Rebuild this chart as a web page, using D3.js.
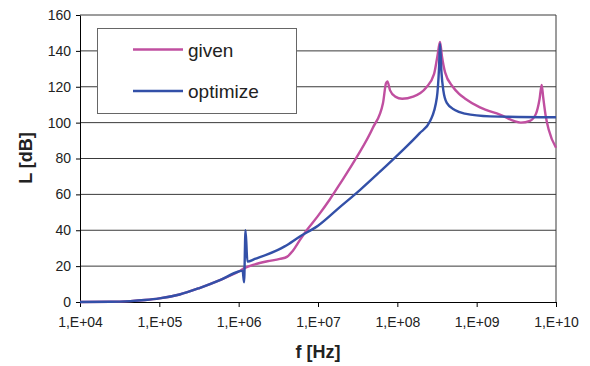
<!DOCTYPE html>
<html>
<head>
<meta charset="utf-8">
<script src="https://cdn.jsdelivr.net/npm/d3@7"></script>
<style>
  body { margin: 0; background: #fff; }
  svg { display: block; font-family: Arial, "Liberation Sans", sans-serif; }
</style>
</head>
<body>
<svg id="chart"></svg>
<script>
// readings from the picture
const freqGiven = [1e4, 2.4e4, 4.3e4, 6.6e4, 1e5, 1.8e5, 3.2e5, 5.8e5, 1e6, 1.2e6, 1.6e6, 2.3e6, 3.3e6, 4.1e6,
  4.8e6, 5.9e6, 7.2e6, 1e7, 1.4e7, 1.9e7, 3.1e7, 4.9e7, 6.6e7, 7.2e7, 7.5e7, 8.1e7, 9.4e7, 1.15e8, 1.58e8,
  2.3e8, 2.9e8, 3.2e8, 3.45e8, 3.65e8, 4e8, 5e8, 6e8, 7.1e8, 1.1e9, 1.96e9, 3.6e9, 4.7e9, 5.6e9, 6.2e9,
  6.6e9, 6.9e9, 7.4e9, 8.1e9, 1e10];
const lGiven = [0, 0.1, 0.5, 1.1, 2.0, 4.2, 7.8, 12.2, 17, 19, 21, 22.7, 24, 25.3,
  28.5, 34.5, 40, 48, 57, 66, 81, 97, 111, 122, 123, 118, 114.5, 113.3, 114.5,
  119.5, 127, 137, 145, 137, 128, 120, 116, 113.5, 108.5, 104.5, 100, 101, 105, 113,
  121, 114, 104, 96, 86];

const freqOpt = [1e4, 2.4e4, 4.3e4, 6.6e4, 1e5, 1.8e5, 3.2e5, 5.8e5, 1e6, 1.12e6, 1.17e6, 1.22e6, 1.29e6,
  1.6e6, 2.3e6, 3.8e6, 5.9e6, 1e7, 1.9e7, 3.4e7, 6e7, 1.07e8, 1.9e8, 2.6e8, 3.15e8, 3.35e8, 3.45e8,
  3.6e8, 3.8e8, 4.2e8, 5.3e8, 7.1e8, 1.48e9, 1e10];
const lOpt = [0, 0.1, 0.5, 1.1, 2.0, 4.2, 7.8, 12.2, 17, 17.5, 11, 40, 22.5,
  24, 26.5, 31, 36.5, 42.5, 53, 62.5, 72.5, 83, 94, 101, 114, 130, 144,
  128, 118, 111, 107, 105, 103.5, 103];

const xTicks = [1e4, 1e5, 1e6, 1e7, 1e8, 1e9, 1e10];
const yTicks = [0, 20, 40, 60, 80, 100, 120, 140, 160];
const seriesNames = ['given', 'optimize'];
const colors = ['#c04fa0', '#3350a8'];

const width = 590, height = 366;
const margin = { top: 15, right: 34, bottom: 64, left: 80 };

const svg = d3.select('#chart').attr('width', width).attr('height', height);

const x = d3.scaleLog().domain([1e4, 1e10]).range([margin.left, width - margin.right]);
const y = d3.scaleLinear().domain([0, 160]).range([height - margin.bottom, margin.top]);

// grid lines
svg.append('g')
   .selectAll('line')
   .data(yTicks.slice(1))
   .enter()
   .append('line')
   .attr('x1', x(1e4)).attr('x2', x(1e10))
   .attr('y1', d => y(d)).attr('y2', d => y(d))
   .attr('stroke', '#3a3a3a')
   .attr('stroke-width', 1);

// right border
svg.append('line')
   .attr('x1', x(1e10)).attr('x2', x(1e10))
   .attr('y1', y(0)).attr('y2', y(160))
   .attr('stroke', '#3a3a3a');

// Y axis
const yAxis = svg.append('g')
   .attr('transform', `translate(${margin.left},0)`)
   .call(d3.axisLeft(y).tickValues(yTicks).tickSize(4).tickPadding(5).tickSizeOuter(0));
yAxis.select('.domain').attr('stroke', '#000');
yAxis.selectAll('text').attr('font-size', 14).attr('fill', '#222').style('font-family', 'Arial, "Liberation Sans", sans-serif');

// X axis
const xAxis = svg.append('g')
   .attr('transform', `translate(0,${y(0)})`)
   .call(d3.axisBottom(x).tickValues(xTicks).tickSize(5).tickPadding(10).tickSizeOuter(0)
     .tickFormat(d => '1,E+' + String(Math.round(Math.log10(d))).padStart(2, '0')));
xAxis.select('.domain').attr('stroke', '#000');
xAxis.selectAll('text').attr('font-size', 14).attr('fill', '#222').style('font-family', 'Arial, "Liberation Sans", sans-serif');

// curves
const line = d3.line()
   .x(d => x(d[0]))
   .y(d => y(d[1]))
   .curve(d3.curveMonotoneX);

const given = freqGiven.map((f, i) => [f, lGiven[i]]);
const opt = freqOpt.map((f, i) => [f, lOpt[i]]);

svg.append('path')
   .datum(given)
   .attr('fill', 'none')
   .attr('stroke', colors[0])
   .attr('stroke-width', 2.4)
   .attr('stroke-linejoin', 'round')
   .attr('d', line);

svg.append('path')
   .datum(opt)
   .attr('fill', 'none')
   .attr('stroke', colors[1])
   .attr('stroke-width', 2.4)
   .attr('stroke-linejoin', 'round')
   .attr('d', line);

// legend
const legend = svg.append('g');
legend.append('rect')
   .attr('x', 97.5).attr('y', 28.5)
   .attr('width', 199).attr('height', 85)
   .attr('fill', '#fff')
   .attr('stroke', '#666');

legend.selectAll('line')
   .data(seriesNames)
   .enter()
   .append('line')
   .attr('x1', 133).attr('x2', 183)
   .attr('y1', (d, i) => 49.5 + i * 41.5)
   .attr('y2', (d, i) => 49.5 + i * 41.5)
   .attr('stroke', (d, i) => colors[i])
   .attr('stroke-width', 2.4);

legend.selectAll('text')
   .data(seriesNames)
   .enter()
   .append('text')
   .attr('x', 188)
   .attr('y', (d, i) => 56.5 + i * 41.5)
   .attr('font-size', 19)
   .attr('fill', '#222')
   .text(d => d);

// axis titles
svg.append('text')
   .attr('x', 318).attr('y', 358)
   .attr('text-anchor', 'middle')
   .attr('font-size', 18)
   .attr('font-weight', 'bold')
   .attr('fill', '#222')
   .text('f [Hz]');

svg.append('text')
   .attr('transform', 'translate(32,158) rotate(-90)')
   .attr('text-anchor', 'middle')
   .attr('font-size', 18)
   .attr('font-weight', 'bold')
   .attr('fill', '#222')
   .text('L [dB]');
</script>
</body>
</html>
